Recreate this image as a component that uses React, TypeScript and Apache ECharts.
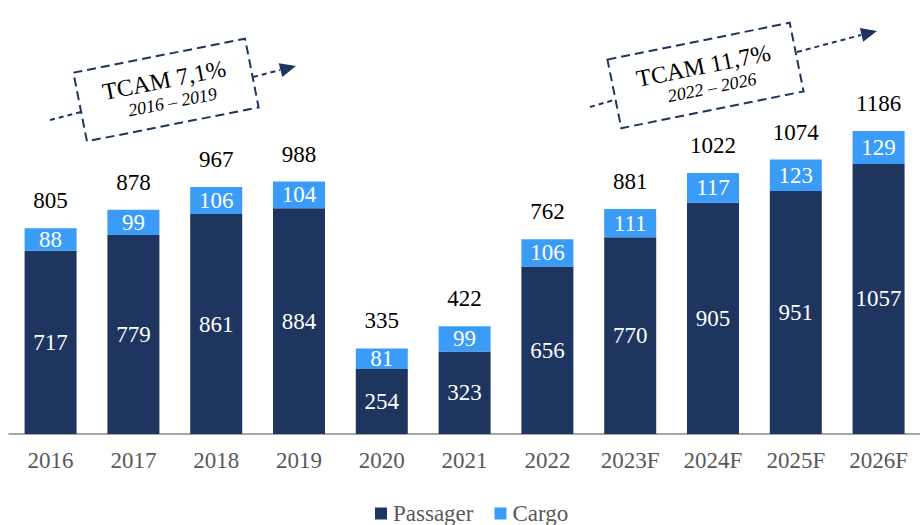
import React, { useEffect, useRef } from "react";
import * as echarts from "echarts";

const categories = ["2016", "2017", "2018", "2019", "2020", "2021", "2022", "2023F", "2024F", "2025F", "2026F"];
const passager = [717, 779, 861, 884, 254, 323, 656, 770, 905, 951, 1057];
const cargo = [88, 99, 106, 104, 81, 99, 106, 111, 117, 123, 129];
const totals = passager.map((v, i) => v + cargo[i]);

const FONT = "Liberation Serif";
const NAVY = "#1e3560";
const BLUE = "#3a9cf7";

function tcamBox(cx: number, cy: number, w: number, h: number, rot: number, title: string, sub: string) {
  return {
    type: "group",
    x: cx,
    y: cy,
    rotation: rot,
    children: [
      {
        type: "rect",
        shape: { x: -w / 2, y: -h / 2, width: w, height: h },
        style: { fill: "rgba(0,0,0,0)", stroke: NAVY, lineWidth: 2, lineDash: [9, 5] },
      },
      {
        type: "text",
        x: 0,
        y: -10,
        style: { text: title, fill: "#000", fontFamily: FONT, fontSize: 24, textAlign: "center", textVerticalAlign: "middle" },
      },
      {
        type: "text",
        x: 4,
        y: 13,
        style: { text: sub, fill: "#000", fontFamily: FONT, fontSize: 18, fontStyle: "italic", textAlign: "center", textVerticalAlign: "middle" },
      },
    ],
  };
}

function dashLine(x1: number, y1: number, x2: number, y2: number) {
  return {
    type: "line",
    shape: { x1, y1, x2, y2 },
    style: { stroke: NAVY, lineWidth: 2, lineDash: [5, 4] },
  };
}

function arrowHead(pts: number[][]) {
  return { type: "polygon", shape: { points: pts }, style: { fill: NAVY } };
}

export default function App() {
  const ref = useRef<HTMLDivElement>(null);
  useEffect(() => {
    if (!ref.current) return;
    const chart = echarts.init(ref.current, null, { renderer: "svg" });
    const lbl = { fontFamily: FONT, fontSize: 23 };
    chart.setOption({
      animation: false,
      textStyle: { fontFamily: FONT },
      grid: { left: 9.2, right: -9.3, top: 76.3, bottom: 91 },
      legend: {
        data: ["Passager", "Cargo"],
        top: 497,
        left: 370,
        itemWidth: 12,
        itemHeight: 12,
        itemGap: 21,
        icon: "rect",
        textStyle: { color: "#595959", ...lbl, padding: [0, 0, 0, 1] },
      },
      xAxis: {
        type: "category",
        data: categories,
        axisTick: { show: false },
        axisLine: { lineStyle: { color: "#a6a6a6", width: 2 } },
        axisLabel: { color: "#595959", ...lbl, margin: 15 },
      },
      yAxis: { type: "value", min: 0, max: 1400, show: false, splitLine: { show: false } },
      series: [
        {
          name: "Total",
          type: "bar",
          data: totals,
          barWidth: 52,
          barGap: "-100%",
          silent: true,
          z: 1,
          itemStyle: { color: "rgba(0,0,0,0)" },
          label: { show: true, position: "top", distance: 16, color: "#000", ...lbl },
        },
        {
          name: "Passager",
          type: "bar",
          stack: "s",
          data: passager,
          barWidth: 52,
          barGap: "-100%",
          z: 2,
          itemStyle: { color: NAVY },
          label: { show: true, position: "inside", color: "#fff", ...lbl },
        },
        {
          name: "Cargo",
          type: "bar",
          stack: "s",
          data: cargo,
          barWidth: 52,
          barGap: "-100%",
          z: 2,
          itemStyle: { color: BLUE },
          label: { show: true, position: "inside", color: "#fff", ...lbl },
        },
      ],
      graphic: [
        tcamBox(166, 90, 175, 70, 0.195, "TCAM 7,1%", "2016 – 2019"),
        dashLine(50, 120, 81, 112),
        dashLine(253, 77, 280, 70),
        arrowHead([[296, 66], [282.3, 76.9], [278.7, 63.3]]),
        tcamBox(705.5, 75.5, 186, 70, 0.199, "TCAM 11,7%", "2022 – 2026"),
        dashLine(590, 107, 614, 100),
        dashLine(797, 52, 861, 35),
        arrowHead([[877, 31], [863.2, 41.7], [859.8, 28.1]]),
      ],
    });
    return () => chart.dispose();
  }, []);
  return <div ref={ref} style={{ position: "absolute", left: 0, top: 0, width: 920, height: 525 }} />;
}
